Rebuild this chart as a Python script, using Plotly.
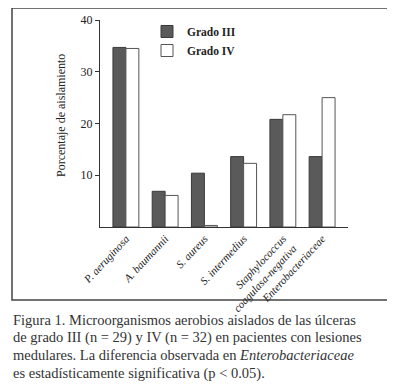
import plotly.graph_objects as go

categories = ["P. aeruginosa", "A. baumannii", "S. aureus", "S. intermedius",
              "Staphylococcus<br>coagulasa-negativa", "Enterobacteriaceae"]
grado_iii = [34.7, 6.9, 10.4, 13.6, 20.8, 13.6]
grado_iv = [34.5, 6.1, 0.3, 12.3, 21.7, 25.0]
y_ticks = [10, 20, 30, 40]
y_title = "Porcentaje de aislamiento"
caption_lines = [
    "Figura 1. Microorganismos aerobios aislados de las úlceras",
    "de grado III (n = 29) y IV (n = 32) en pacientes con lesiones",
    "medulares. La diferencia observada en <i>Enterobacteriaceae</i>",
    "es estadísticamente significativa (p &lt; 0.05).",
]

SERIF = "Liberation Serif"
OFF = 8  # page body margin
W, H = 387, 380
# plot area on screen: x 100..348, y 20..227
L, T = 100 - OFF, 20 - OFF
R = W - (348 - OFF)
B = H - (227 - OFF)
pw, ph = W - L - R, H - T - B

def px(x):
    return (x - OFF - L) / pw

def py(y):
    return (H - B - (y - OFF)) / ph

xs = list(range(len(categories)))
fig = go.Figure()
fig.add_trace(go.Bar(x=xs, y=grado_iii, name="<b>Grado III</b>",
                     marker=dict(color="#5a5a5a", line=dict(color="#3a3a3a", width=1))))
fig.add_trace(go.Bar(x=xs, y=grado_iv, name="<b>Grado IV</b>",
                     marker=dict(color="#ffffff", line=dict(color="#555555", width=1))))

fig.update_layout(
    width=W, height=H,
    margin=dict(l=L, r=R, t=T, b=B, autoexpand=False),
    paper_bgcolor="white", plot_bgcolor="white",
    barmode="group", bargap=0.34, bargroupgap=0,
    font=dict(family=SERIF, color="#222222"),
    showlegend=True,
    legend=dict(x=px(147), y=py(17), xanchor="left", yanchor="top",
                font=dict(size=11.5, family=SERIF, color="#222"),
                bgcolor="rgba(0,0,0,0)", tracegroupgap=0, itemwidth=30),
    xaxis=dict(range=[-0.66, 5.66], tickmode="array", tickvals=xs,
               ticktext=["<i>%s</i>" % c for c in categories],
               tickangle=-47, tickfont=dict(size=11, family=SERIF, color="#222"),
               showline=True, linecolor="#333", linewidth=1, ticks="",
               showgrid=False, zeroline=False),
    yaxis=dict(range=[0, 40], tickmode="array", tickvals=y_ticks,
               ticks="outside", ticklen=4, tickcolor="#333",
               tickfont=dict(size=12, family=SERIF, color="#222"),
               showline=True, linecolor="#333", linewidth=1,
               showgrid=False, zeroline=False),
)

fig.add_annotation(text=y_title, textangle=-90, xref="paper", yref="paper",
                   x=px(61), y=py(116), xanchor="center", yanchor="middle",
                   showarrow=False, font=dict(size=12, family=SERIF, color="#222"))

fig.add_shape(type="rect", xref="paper", yref="paper",
              x0=px(12), x1=px(389), y0=py(300), y1=py(8),
              line=dict(color="#444", width=1.5), fillcolor="rgba(0,0,0,0)", layer="below")

for i, line in enumerate(caption_lines):
    fig.add_annotation(text=line, xref="paper", yref="paper",
                       x=px(11), y=py(320 + i * 17.7), xanchor="left", yanchor="middle",
                       showarrow=False, align="left",
                       font=dict(size=14.5, family=SERIF, color="#333"))

fig.write_html("out.html")
